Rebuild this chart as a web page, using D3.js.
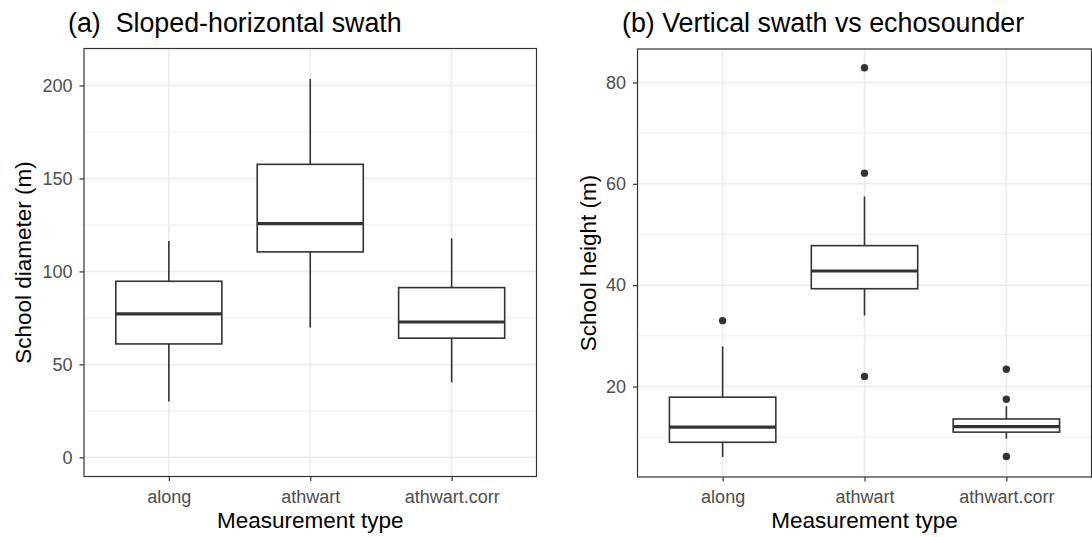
<!DOCTYPE html>
<html>
<head>
<meta charset="utf-8">
<script src="https://cdn.jsdelivr.net/npm/d3@7"></script>
<style>
  body { margin: 0; background: #fff; }
  text { font-family: "Liberation Sans", Arial, sans-serif; }
</style>
</head>
<body>
<svg id="chart" width="1092" height="537"></svg>
<script>
var categories = ["along", "athwart", "athwart.corr"];

// [lower whisker, Q1, median, Q3, upper whisker]
var diameterStats = [
  [30.0, 61.0, 77.2, 94.7, 116.4],
  [69.8, 110.5, 125.7, 157.6, 203.5],
  [40.4, 64.1, 72.8, 91.3, 117.8]
];
var diameterOutliers = [[], [], []];

var heightStats = [
  [6.1, 9.0, 12.0, 17.9, 27.9],
  [34.0, 39.3, 42.8, 47.8, 57.5],
  [9.7, 11.0, 12.1, 13.6, 16.1]
];
var heightOutliers = [[33.0], [82.9, 62.1, 22.0], [23.4, 17.5, 6.2]];

var diameterTicks = [0, 50, 100, 150, 200];
var diameterMinor = [25, 75, 125, 175];
var heightTicks = [20, 40, 60, 80];
var heightMinor = [10, 30, 50, 70];

var svg = d3.select("#chart");

function panel(opt) {
  var g = svg.append("g");
  var x = d3.scalePoint().domain(categories).range([opt.left, opt.right]).padding(0.6);
  var step = x.step();
  var y = d3.scaleLinear().domain(opt.domain).range([opt.bottom, opt.top]);

  //grid
  g.selectAll(".minor").data(opt.minor).enter().append("line")
    .attr("x1", opt.left).attr("x2", opt.right)
    .attr("y1", d => y(d)).attr("y2", d => y(d))
    .attr("stroke", "#ebebeb").attr("stroke-width", 0.8);
  g.selectAll(".major").data(opt.ticks).enter().append("line")
    .attr("x1", opt.left).attr("x2", opt.right)
    .attr("y1", d => y(d)).attr("y2", d => y(d))
    .attr("stroke", "#ebebeb").attr("stroke-width", 1.5);
  g.selectAll(".vmajor").data(categories).enter().append("line")
    .attr("x1", d => x(d)).attr("x2", d => x(d))
    .attr("y1", opt.top).attr("y2", opt.bottom)
    .attr("stroke", "#ebebeb").attr("stroke-width", 1.5);

  //boxes
  var bw = step * 0.75;
  var boxes = g.selectAll(".box").data(opt.stats).enter().append("g");
  boxes.append("line")
    .attr("x1", (d, i) => x(categories[i])).attr("x2", (d, i) => x(categories[i]))
    .attr("y1", d => y(d[4])).attr("y2", d => y(d[3]))
    .attr("stroke", "#333").attr("stroke-width", 1.6);
  boxes.append("line")
    .attr("x1", (d, i) => x(categories[i])).attr("x2", (d, i) => x(categories[i]))
    .attr("y1", d => y(d[1])).attr("y2", d => y(d[0]))
    .attr("stroke", "#333").attr("stroke-width", 1.6);
  boxes.append("rect")
    .attr("x", (d, i) => x(categories[i]) - bw / 2).attr("width", bw)
    .attr("y", d => y(d[3])).attr("height", d => y(d[1]) - y(d[3]))
    .attr("fill", "#fff").attr("stroke", "#333").attr("stroke-width", 1.6);
  boxes.append("line")
    .attr("x1", (d, i) => x(categories[i]) - bw / 2).attr("x2", (d, i) => x(categories[i]) + bw / 2)
    .attr("y1", d => y(d[2])).attr("y2", d => y(d[2]))
    .attr("stroke", "#333").attr("stroke-width", 3.2);

  //outliers
  opt.outliers.forEach(function (pts, i) {
    g.selectAll(null).data(pts).enter().append("circle")
      .attr("cx", x(categories[i])).attr("cy", d => y(d))
      .attr("r", 3.7).attr("fill", "#333");
  });

  //border
  g.append("rect")
    .attr("x", opt.left).attr("y", opt.top)
    .attr("width", opt.right - opt.left).attr("height", opt.bottom - opt.top)
    .attr("fill", "none").attr("stroke", "#333").attr("stroke-width", 1.2);

  //axes
  var ya = g.append("g").attr("transform", "translate(" + opt.left + ",0)")
    .call(d3.axisLeft(y).tickValues(opt.ticks).tickSize(4.5).tickPadding(7));
  var xa = g.append("g").attr("transform", "translate(0," + opt.bottom + ")")
    .call(d3.axisBottom(x).tickSize(4.5).tickPadding(9));
  [ya, xa].forEach(function (a) {
    a.select(".domain").remove();
    a.selectAll("line").attr("stroke", "#333").attr("stroke-width", 1.2);
    a.selectAll("text").attr("fill", "#4d4d4d").style("font-size", "18px");
  });

  g.append("text")
    .attr("x", (opt.left + opt.right) / 2).attr("y", 528)
    .attr("text-anchor", "middle").style("font-size", "22.5px").attr("fill", "#000")
    .text("Measurement type");
  g.append("text")
    .attr("transform", "translate(" + opt.ylabX + "," + (opt.top + opt.bottom) / 2 + ") rotate(-90)")
    .attr("text-anchor", "middle").style("font-size", "22.5px").attr("fill", "#000")
    .text(opt.ylab);
  g.append("text")
    .attr("x", opt.titleX).attr("y", 32)
    .style("font-size", "26.8px").attr("fill", "#000")
    .attr("xml:space", "preserve")
    .text(opt.title);
}

panel({
  left: 84, right: 536.5, top: 48.5, bottom: 476.5,
  domain: [-10.3, 219.9],
  ticks: diameterTicks, minor: diameterMinor,
  stats: diameterStats, outliers: diameterOutliers,
  ylab: "School diameter (m)", ylabX: 31,
  title: "(a)  Sloped-horizontal swath", titleX: 68
});

panel({
  left: 637.5, right: 1091.5, top: 49, bottom: 477,
  domain: [2.15, 86.6],
  ticks: heightTicks, minor: heightMinor,
  stats: heightStats, outliers: heightOutliers,
  ylab: "School height (m)", ylabX: 595.5,
  title: "(b) Vertical swath vs echosounder", titleX: 622
});
</script>
</body>
</html>
